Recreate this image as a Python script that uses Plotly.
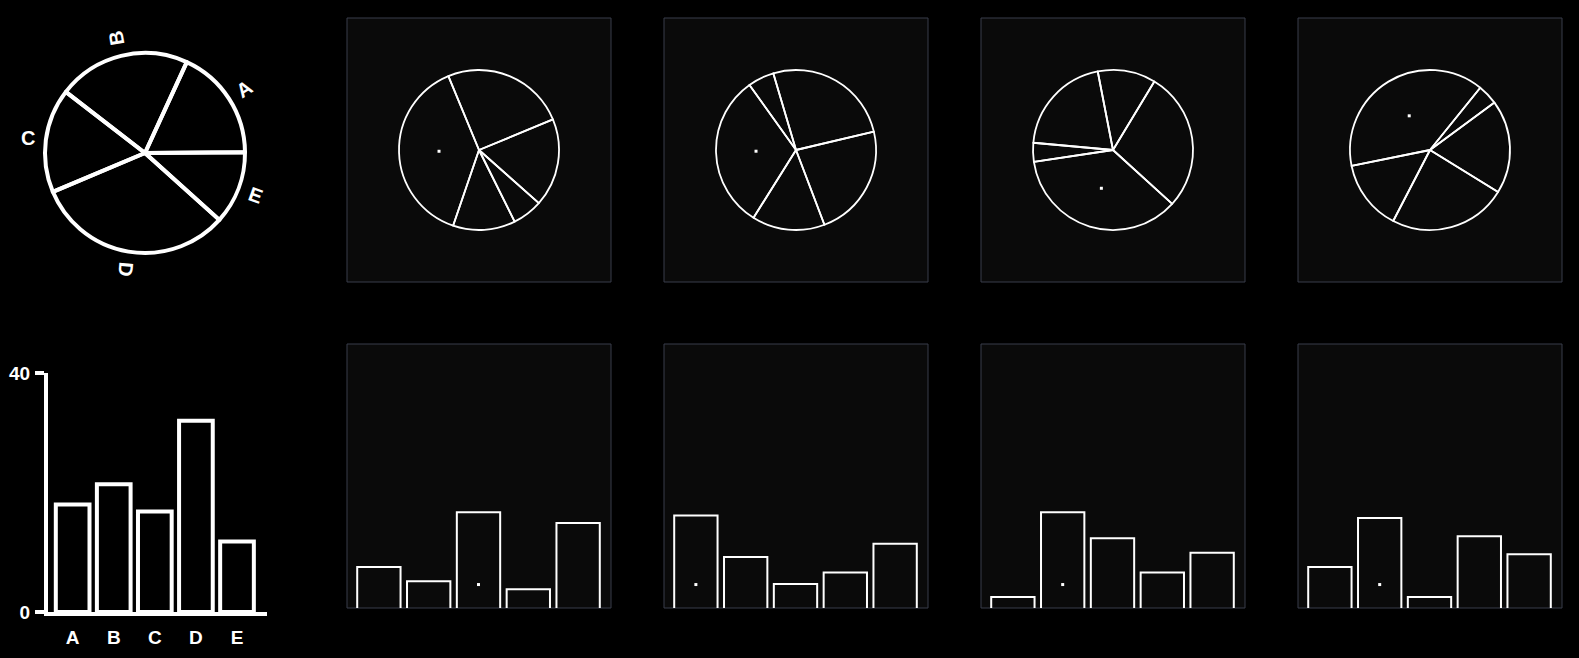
import math
import plotly.graph_objects as go

W, H = 1579, 658

# ---------------- data ----------------
# hand-drawn reference (left): same data shown as pie and bars
ref_categories = ["A", "B", "C", "D", "E"]
ref_values = [18.0, 21.4, 16.8, 32.0, 11.8]
ref_pie_rotation = 24.7
ref_label_angles = [-33, -100, 0, 95, 20]
ref_ticks = [0, 40]
ref_ticktext = ["0", "40"]

# stimulus pies (slice values in clockwise order from rotation angle)
pie1 = [25.0, 17.8, 6.1, 12.6, 38.5]
pie2 = [25.9, 22.9, 14.7, 31.2, 5.3]
pie3 = [11.7, 28.1, 35.9, 3.8, 20.5]
pie4 = [4.1, 18.9, 23.8, 14.2, 39.0]
pie_rotations = [-22.5, -16.5, -11.0, 38.9]

# stimulus bars
bar1 = [15.4, 10.2, 35.5, 7.3, 31.6]
bar2 = [34.3, 19.1, 9.2, 13.4, 24.0]
bar3 = [4.4, 35.5, 26.0, 13.4, 20.7]
bar4 = [15.4, 33.4, 4.4, 26.7, 20.1]
bar_positions = [0, 1, 2, 3, 4]
bar_dot_height = 9.0

pies = [pie1, pie2, pie3, pie4]
bars = [bar1, bar2, bar3, bar4]

# ---------------- styling / layout ----------------
PANEL_LEFT = [347, 664, 981, 1298]
PANEL = 264
TOP_ROW = 18
BOT_ROW = 344
PIE_R = 80
BORDER = "#393c4a"
PANEL_BG = "#0a0a0a"
FONT = "Liberation Sans, Arial, sans-serif"


def xd(a, b):
    return [a / W, b / W]


def yd(top, bottom):
    return [1 - bottom / H, 1 - top / H]


def ax(n):
    s = "" if n == 1 else str(n)
    return f"x{s}", f"y{s}", f"xaxis{s}", f"yaxis{s}"


fig = go.Figure()
layout = dict(
    width=W, height=H, margin=dict(l=0, r=0, t=0, b=0, pad=0), autosize=False,
    paper_bgcolor="#000000", plot_bgcolor="#000000",
    showlegend=False, shapes=[], annotations=[],
)


def hidden_axis(**kw):
    d = dict(showgrid=False, zeroline=False, showticklabels=False, ticks="",
             showline=False, fixedrange=True, automargin=False)
    d.update(kw)
    return d


# ---- stimulus pies (axes 1-4) ----
for k, vals in enumerate(pies):
    xr, yr, xk, yk = ax(k + 1)
    L = PANEL_LEFT[k]
    half = PANEL / 2 / PIE_R
    layout[xk] = hidden_axis(domain=xd(L, L + PANEL), range=[-half, half], anchor=yr)
    layout[yk] = hidden_axis(domain=yd(TOP_ROW, TOP_ROW + PANEL), range=[-half, half], anchor=xr)
    layout["shapes"].append(dict(type="rect", xref=f"{xr} domain", yref=f"{yr} domain",
                                 x0=0, x1=1, y0=0, y1=1, layer="below",
                                 fillcolor=PANEL_BG, line=dict(color=BORDER, width=1)))
    cx = L + PANEL / 2
    cy = TOP_ROW + PANEL / 2
    fig.add_trace(go.Pie(
        values=vals, sort=False, direction="clockwise", rotation=pie_rotations[k],
        textinfo="none", hoverinfo="none",
        marker=dict(colors=["rgba(0,0,0,0)"] * len(vals), line=dict(color="white", width=1.8)),
        domain=dict(x=xd(cx - PIE_R, cx + PIE_R), y=yd(cy - PIE_R, cy + PIE_R)),
    ))
    # dot in middle of largest slice, half radius
    imax = vals.index(max(vals))
    total = sum(vals)
    start = pie_rotations[k] + 360 * sum(vals[:imax]) / total
    mid = math.radians(start + 180 * vals[imax] / total)
    fig.add_trace(go.Scatter(x=[0.5 * math.sin(mid)], y=[0.5 * math.cos(mid)], mode="markers",
                             marker=dict(symbol="square", size=3, color="white"),
                             xaxis=xr, yaxis=yr, hoverinfo="skip"))

# ---- stimulus bars (axes 5-8) ----
for k, vals in enumerate(bars):
    xr, yr, xk, yk = ax(k + 5)
    L = PANEL_LEFT[k]
    layout[xk] = hidden_axis(domain=xd(L, L + PANEL), range=[-0.64, 4.66], anchor=yr)
    layout[yk] = hidden_axis(domain=yd(BOT_ROW, BOT_ROW + PANEL), range=[0.4, 97.2], anchor=xr)
    layout["shapes"].append(dict(type="rect", xref=f"{xr} domain", yref=f"{yr} domain",
                                 x0=0, x1=1, y0=0, y1=1, layer="below",
                                 fillcolor=PANEL_BG, line=dict(color=BORDER, width=1)))
    fig.add_trace(go.Bar(x=bar_positions, y=vals, width=0.87,
                         marker=dict(color="rgba(0,0,0,0)", line=dict(color="white", width=2)),
                         xaxis=xr, yaxis=yr, hoverinfo="skip"))
    imax = vals.index(max(vals))
    fig.add_trace(go.Scatter(x=[bar_positions[imax]], y=[bar_dot_height], mode="markers",
                             marker=dict(symbol="square", size=3, color="white"),
                             xaxis=xr, yaxis=yr, hoverinfo="skip"))

# ---- hand-drawn pie (left, overlay axis 9) ----
pcx, pcy, pr = 145, 153, 100
fig.add_trace(go.Pie(
    values=ref_values, labels=ref_categories, sort=False, direction="counterclockwise",
    rotation=ref_pie_rotation, textinfo="none", hoverinfo="none",
    marker=dict(colors=["rgba(0,0,0,0)"] * 5, line=dict(color="white", width=4)),
    domain=dict(x=xd(pcx - pr, pcx + pr), y=yd(pcy - pr, pcy + pr)),
))
ext = 1.45  # overlay range in units of the pie radius
layout["xaxis9"] = hidden_axis(domain=xd(pcx - ext * pr, pcx + ext * pr), range=[-ext, ext], anchor="y9")
layout["yaxis9"] = hidden_axis(domain=yd(pcy - ext * pr, pcy + ext * pr), range=[-ext, ext], anchor="x9")
tot = sum(ref_values)
s0 = ref_pie_rotation + 360 * ref_values[0] / tot
cum = 0.0
for i, (lab, v) in enumerate(zip(ref_categories, ref_values)):
    mid = math.radians(s0 - 360 * (cum + v / 2) / tot)
    cum += v
    layout["annotations"].append(dict(
        xref="x9", yref="y9", x=1.18 * math.sin(mid), y=1.18 * math.cos(mid),
        text=f"<b>{lab}</b>", showarrow=False, textangle=ref_label_angles[i],
        font=dict(family=FONT, size=20, color="white")))

# ---- hand-drawn bar chart (left, axis 10) ----
fig.add_trace(go.Bar(x=bar_positions, y=ref_values, width=0.82,
                     marker=dict(color="rgba(0,0,0,0)", line=dict(color="white", width=4)),
                     xaxis="x10", yaxis="y10", hoverinfo="skip", cliponaxis=False))
layout["xaxis10"] = dict(domain=xd(48, 267), range=[-0.6, 4.73], anchor="y10",
                         showgrid=False, zeroline=False, showline=True, linecolor="white",
                         linewidth=4, ticks="", tickvals=bar_positions,
                         ticktext=[f"<b>{c}</b>" for c in ref_categories],
                         tickfont=dict(family=FONT, size=19, color="white"),
                         ticklabelstandoff=5, fixedrange=True, automargin=False)
layout["yaxis10"] = dict(domain=yd(373, 612), range=[0, 40], anchor="x10",
                         showgrid=False, zeroline=False, showline=True, linecolor="white",
                         linewidth=4, ticks="outside", ticklen=9, tickwidth=4, tickcolor="white",
                         tickvals=ref_ticks, ticktext=[f"<b>{t}</b>" for t in ref_ticktext],
                         tickfont=dict(family=FONT, size=19, color="white"),
                         ticklabelstandoff=1, fixedrange=True, automargin=False)

fig.update_layout(**layout)
fig.write_html("out.html")
